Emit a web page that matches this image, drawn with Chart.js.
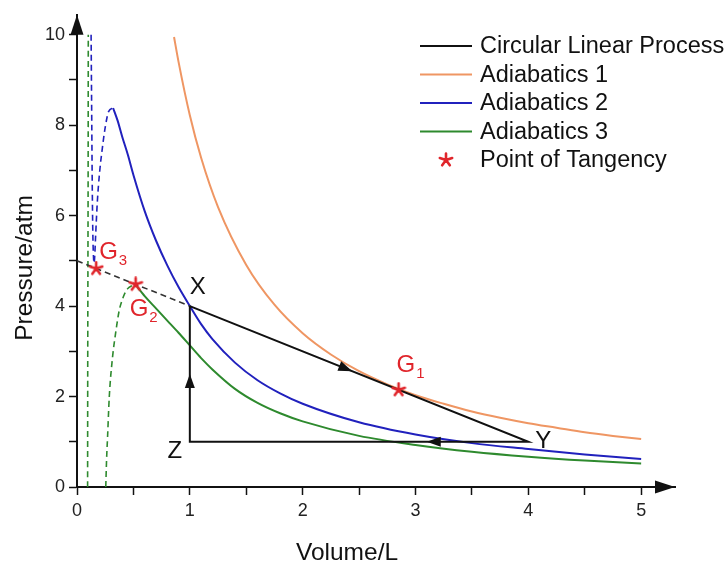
<!DOCTYPE html>
<html>
<head>
<meta charset="utf-8">
<title>P-V diagram</title>
<script src="https://cdn.jsdelivr.net/npm/chart.js@4.4.1/dist/chart.umd.min.js"></script>
<style>
    html, body { margin: 0; padding: 0; background: #fff; }
    #wrap { width: 727px; height: 572px; }
</style>
</head>
<body>
<div id="wrap"><canvas id="pvChart" width="727" height="572"></canvas></div>
<script>
// 图例名称
const seriesNames = ['Circular Linear Process', 'Adiabatics 1', 'Adiabatics 2', 'Adiabatics 3', 'Point of Tangency'];

// 坐标轴刻度
const volumeTicks = [0, 0.5, 1, 1.5, 2, 2.5, 3, 3.5, 4, 4.5, 5];
const volumeTickLabels = ['0', '', '1', '', '2', '', '3', '', '4', '', '5'];
const pressureTicks = [0, 1, 2, 3, 4, 5, 6, 7, 8, 9, 10];
const pressureTickLabels = ['0', '', '2', '', '4', '', '6', '', '8', '', '10'];

// 循环过程 X -> Y -> Z -> X
const processV = [1, 4, 1, 1];
const processP = [4, 1, 1, 4];
const processNames = ['X', 'Y', 'Z'];
// 虚线延长线
const extensionV = [0, 1];
const extensionP = [5, 4];

// 绝热线 1
const adiabat1V = [0.86, 0.9, 1.0, 1.1, 1.25, 1.5, 1.75, 2.0, 2.25, 2.5, 2.75, 3.0, 3.25, 3.5, 3.75, 4.0, 4.25, 4.5, 4.75, 5.0];
const adiabat1P = [9.95, 9.40, 8.22, 7.28, 6.19, 4.91, 4.03, 3.40, 2.93, 2.56, 2.27, 2.03, 1.84, 1.67, 1.53, 1.41, 1.31, 1.21, 1.13, 1.06];

// 绝热线 2（实线 + 虚线部分）
const adiabat2V = [0.32, 0.36, 0.4, 0.45, 0.5, 0.6, 0.7, 0.8, 0.9, 1.0, 1.1, 1.2, 1.4, 1.6, 1.8, 2.0, 2.5, 3.0, 3.5, 4.0, 4.5, 5.0];
const adiabat2P = [8.38, 8.1, 7.75, 7.35, 6.9, 6.1, 5.45, 4.9, 4.42, 4.0, 3.6, 3.27, 2.75, 2.36, 2.07, 1.84, 1.43, 1.16, 0.97, 0.84, 0.72, 0.62];
const adiabat2DashV = [0.125, 0.128, 0.131, 0.134, 0.138, 0.142, 0.147, 0.152, 0.157, 0.165, 0.18, 0.2, 0.225, 0.25, 0.28, 0.32];
const adiabat2DashP = [10, 9, 8, 7, 6, 5.4, 5.05, 4.95, 5.1, 5.55, 6.3, 6.95, 7.5, 7.95, 8.3, 8.38];

// 绝热线 3（实线 + 两段虚线）
const adiabat3V = [0.52, 0.6, 0.7, 0.8, 0.9, 1.0, 1.1, 1.2, 1.4, 1.6, 1.8, 2.0, 2.5, 3.0, 3.5, 4.0, 4.5, 5.0];
const adiabat3P = [4.47, 4.22, 3.95, 3.68, 3.41, 3.13, 2.85, 2.6, 2.17, 1.86, 1.63, 1.45, 1.13, 0.93, 0.78, 0.67, 0.585, 0.52];
const adiabat3DashV = [0.255, 0.262, 0.271, 0.286, 0.315, 0.345, 0.374, 0.41, 0.447, 0.485, 0.52];
const adiabat3DashP = [0, 0.6, 1.11, 1.99, 2.87, 3.45, 3.9, 4.2, 4.38, 4.45, 4.47];
const adiabat3LeftV = [0.094, 0.095, 0.097, 0.099, 0.1];
const adiabat3LeftP = [0, 2.5, 5, 7.5, 10];

// 切点 G1, G2, G3
const tangentV = [2.85, 0.52, 0.17];
const tangentP = [2.15, 4.48, 4.83];

// 过程箭头在各段上的位置（比例）
const arrowFractions = [0.48, 0.3, 0.5];

const COLORS = {
    black: '#111111',
    orange: '#ef9663',
    blue: '#2121bd',
    green: '#2e8a2e',
    red: '#e0252b'
};
const FONT = '"Liberation Sans", Arial, sans-serif';

function pts(vs, ps) {
    return vs.map((v, i) => ({ x: v, y: ps[i] }));
}

// 星号标记
function makeStar(size, color) {
    const c = document.createElement('canvas');
    c.width = size;
    c.height = size;
    const g = c.getContext('2d');
    g.strokeStyle = color;
    g.lineWidth = 2.6;
    g.lineCap = 'round';
    const r = size / 2 - 1.5;
    g.beginPath();
    for (let k = 0; k < 5; k++) {
        const a = -Math.PI / 2 + k * 2 * Math.PI / 5;
        g.moveTo(size / 2, size / 2);
        g.lineTo(size / 2 + r * Math.cos(a), size / 2 + r * Math.sin(a));
    }
    g.stroke();
    return c;
}
const starImg = makeStar(16, COLORS.red);

function arrowHead(ctx, x, y, angle, len, half) {
    ctx.save();
    ctx.translate(x, y);
    ctx.rotate(angle);
    ctx.beginPath();
    ctx.moveTo(0, 0);
    ctx.lineTo(-len, -half);
    ctx.lineTo(-len, half);
    ctx.closePath();
    ctx.fill();
    ctx.restore();
}

// 文字、箭头、图例
const overlayPlugin = {
    id: 'overlay',
    afterDraw(chart) {
        const { ctx, chartArea: area } = chart;
        const sx = chart.scales.x;
        const sy = chart.scales.y;
        ctx.save();

        // 坐标轴箭头
        ctx.fillStyle = COLORS.black;
        arrowHead(ctx, area.right, area.bottom, 0, 20, 6.5);
        arrowHead(ctx, area.left, area.top, -Math.PI / 2, 20, 6.5);

        // 过程方向箭头
        for (let i = 0; i < 3; i++) {
            const x0 = sx.getPixelForValue(processV[i]);
            const y0 = sy.getPixelForValue(processP[i]);
            const x1 = sx.getPixelForValue(processV[i + 1]);
            const y1 = sy.getPixelForValue(processP[i + 1]);
            const f = arrowFractions[i];
            arrowHead(ctx, x0 + (x1 - x0) * f, y0 + (y1 - y0) * f, Math.atan2(y1 - y0, x1 - x0), 14, 5);
        }

        // X, Y, Z 标签
        const nameOffsets = [[8, -19], [15, 0], [-15, 10]];
        ctx.font = '24px ' + FONT;
        ctx.textAlign = 'center';
        ctx.textBaseline = 'middle';
        ctx.fillStyle = COLORS.black;
        processNames.forEach((n, i) => {
            ctx.fillText(n, sx.getPixelForValue(processV[i]) + nameOffsets[i][0],
                sy.getPixelForValue(processP[i]) + nameOffsets[i][1]);
        });

        // G1, G2, G3 标签
        const gOffsets = [[-2, -24], [-6, 25], [3, -16]];
        ctx.fillStyle = COLORS.red;
        ctx.textAlign = 'left';
        tangentV.forEach((v, i) => {
            const px = sx.getPixelForValue(v) + gOffsets[i][0];
            const py = sy.getPixelForValue(tangentP[i]) + gOffsets[i][1];
            ctx.font = '24px ' + FONT;
            ctx.fillText('G', px, py);
            const w = ctx.measureText('G').width;
            ctx.font = '15px ' + FONT;
            ctx.fillText(String(i + 1), px + w + 1, py + 8);
        });

        // 坐标轴标题
        ctx.fillStyle = COLORS.black;
        ctx.font = '24.5px ' + FONT;
        ctx.textAlign = 'center';
        ctx.fillText('Volume/L', 347, 553);
        ctx.save();
        ctx.translate(25, 268);
        ctx.rotate(-Math.PI / 2);
        ctx.fillText('Pressure/atm', 0, 0);
        ctx.restore();

        // 图例
        const legendColors = [COLORS.black, COLORS.orange, COLORS.blue, COLORS.green, null];
        ctx.font = '23.5px ' + FONT;
        ctx.textAlign = 'left';
        seriesNames.forEach((name, i) => {
            const ly = 46 + i * 28.5;
            if (legendColors[i]) {
                ctx.strokeStyle = legendColors[i];
                ctx.lineWidth = 2;
                ctx.beginPath();
                ctx.moveTo(420, ly);
                ctx.lineTo(472, ly);
                ctx.stroke();
            } else {
                ctx.drawImage(starImg, 446 - 8, ly - 8);
            }
            ctx.fillStyle = COLORS.black;
            ctx.fillText(name, 480, ly + 1);
        });

        ctx.restore();
    }
};

function curve(label, vs, ps, color, dashed) {
    return {
        label: label,
        data: pts(vs, ps),
        showLine: true,
        borderColor: color,
        backgroundColor: color,
        borderWidth: dashed ? 1.6 : 2,
        borderDash: dashed ? [6, 4] : [],
        pointRadius: 0,
        cubicInterpolationMode: 'monotone',
        fill: false
    };
}

function initChart() {
    const ctx = document.getElementById('pvChart').getContext('2d');
    const tickFont = { family: FONT, size: 18 };

    new Chart(ctx, {
        type: 'scatter',
        data: {
            datasets: [
                {
                    label: seriesNames[4],
                    data: pts(tangentV, tangentP),
                    showLine: false,
                    pointStyle: starImg,
                    pointRadius: 8
                },
                {
                    label: seriesNames[0],
                    data: pts(processV, processP),
                    showLine: true,
                    borderColor: COLORS.black,
                    borderWidth: 2,
                    pointRadius: 0,
                    tension: 0
                },
                {
                    label: seriesNames[0],
                    data: pts(extensionV, extensionP),
                    showLine: true,
                    borderColor: '#333',
                    borderWidth: 1.6,
                    borderDash: [6, 4],
                    pointRadius: 0,
                    tension: 0
                },
                curve(seriesNames[1], adiabat1V, adiabat1P, COLORS.orange, false),
                curve(seriesNames[2], adiabat2V, adiabat2P, COLORS.blue, false),
                curve(seriesNames[2], adiabat2DashV, adiabat2DashP, COLORS.blue, true),
                curve(seriesNames[3], adiabat3V, adiabat3P, COLORS.green, false),
                curve(seriesNames[3], adiabat3DashV, adiabat3DashP, COLORS.green, true),
                curve(seriesNames[3], adiabat3LeftV, adiabat3LeftP, COLORS.green, true)
            ]
        },
        options: {
            responsive: false,
            animation: false,
            layout: { padding: { top: 13, right: 52, left: 0, bottom: 0 } },
            plugins: {
                legend: { display: false },
                tooltip: { enabled: false }
            },
            scales: {
                x: {
                    type: 'linear',
                    min: 0,
                    max: 5.3,
                    afterBuildTicks: (s) => { s.ticks = volumeTicks.map(v => ({ value: v })); },
                    afterFit: (s) => { s.height = 85; },
                    ticks: {
                        autoSkip: false,
                        maxRotation: 0,
                        padding: 5,
                        color: '#222',
                        font: tickFont,
                        callback: (v, i) => volumeTickLabels[i]
                    },
                    grid: { drawOnChartArea: false, drawTicks: true, tickLength: 8, tickColor: '#111', tickWidth: 1.5 },
                    border: { color: '#111', width: 2 }
                },
                y: {
                    type: 'linear',
                    min: 0,
                    max: 10.44,
                    afterBuildTicks: (s) => { s.ticks = pressureTicks.map(v => ({ value: v })); },
                    afterFit: (s) => { s.width = 77; },
                    ticks: {
                        autoSkip: false,
                        padding: 4,
                        color: '#222',
                        font: tickFont,
                        callback: (v, i) => pressureTickLabels[i]
                    },
                    grid: { drawOnChartArea: false, drawTicks: true, tickLength: 8, tickColor: '#111', tickWidth: 1.5 },
                    border: { color: '#111', width: 2 }
                }
            }
        },
        plugins: [overlayPlugin]
    });
}

document.addEventListener('DOMContentLoaded', initChart);
</script>
</body>
</html>
